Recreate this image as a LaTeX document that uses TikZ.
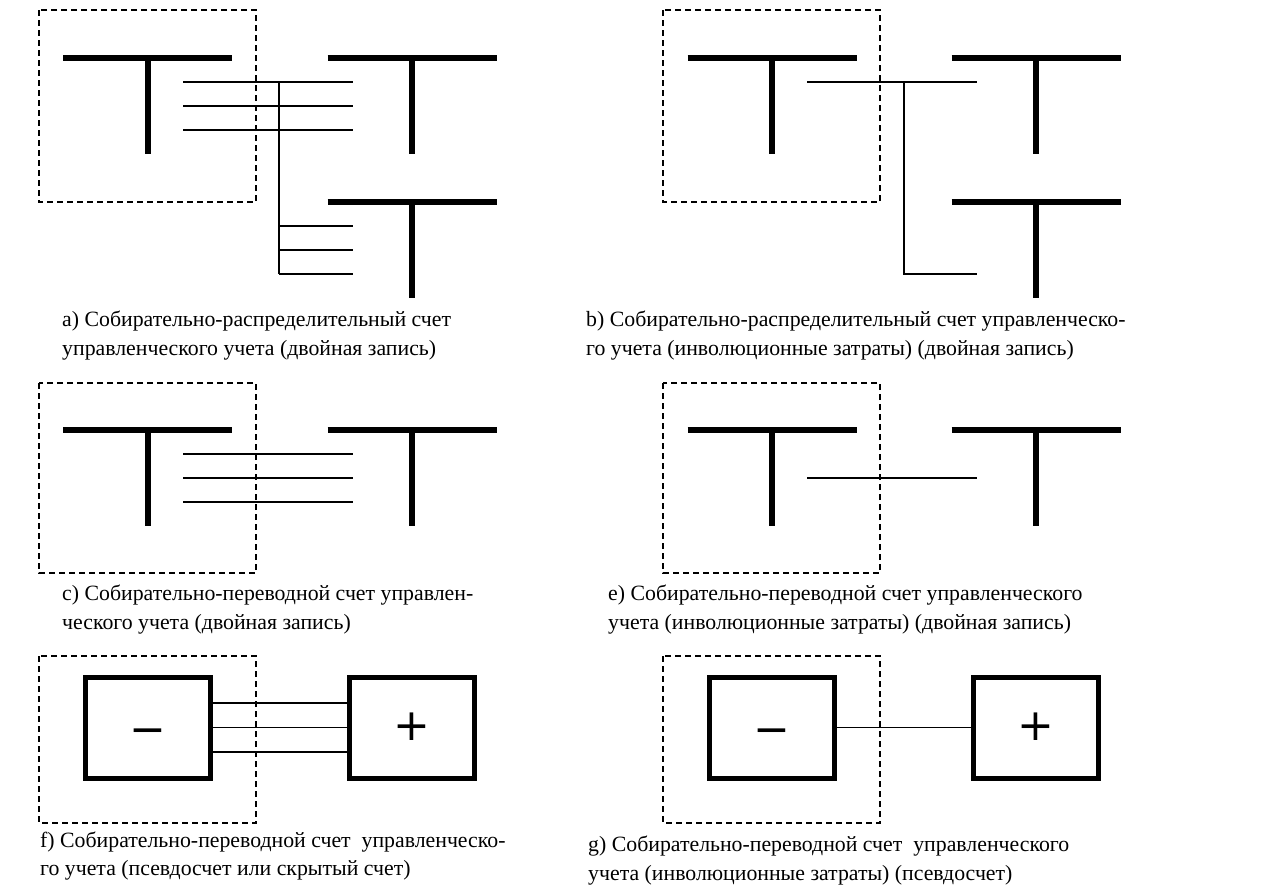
\documentclass[tikz,border=0pt]{standalone}
\usepackage{fontspec}
\setmainfont{Liberation Serif}
\newfontfamily\signfont{DejaVu Sans}
% T-account: thick bar with a stem; #1 name, #2 stem x, #3 bar y
\newcommand\taccount[3]{%
  \draw[tbar] (#2-84.5,#3) -- (#2+84.5,#3);
  \draw[tbar] (#2,#3) -- (#2,#3+96);
  \coordinate (#1) at (#2,#3);}
\begin{document}
\begin{tikzpicture}[x=1pt,y=-1pt,
  frame/.style={draw, line width=1.4pt, dash pattern=on 6pt off 4pt},
  tbar/.style={line width=6pt},
  flow/.style={line width=1.8pt},
  acct/.style={draw, line width=5pt, minimum width=125pt, minimum height=101pt, inner sep=0pt},
  sign/.style={font=\signfont\fontsize{44}{44}\selectfont, inner sep=0pt,
    text height=0pt, text depth=0pt, anchor=base},
  captext/.style={anchor=base west, inner sep=0pt, font=\fontsize{21.8}{26}\selectfont}]
\useasboundingbox (0,0) rectangle (1266,892);

% ---------- a) ----------
\draw[frame] (39,10) rectangle (256,202);
\taccount{aL}{147.5}{58}
\taccount{aR}{412}{58}
\taccount{aD}{412}{202}
\foreach \y in {82,106,130}
  \draw[flow] (183,\y) -- (353,\y);
\coordinate (aTop) at (279,82);
\coordinate (aBot) at (279,274);
\draw[flow] (aTop) -- (aBot);
\foreach \y in {226,250,274}
  \draw[flow] (279,\y) -- (353,\y);
\node[captext] (capa1) at (62,326) {a) Собирательно-распределительный счет};
\node[captext] (capa2) at (62,355) {управленческого учета (двойная запись)};

% ---------- b) ----------
\draw[frame] (663,10) rectangle (880,202);
\taccount{bL}{772}{58}
\taccount{bR}{1036}{58}
\taccount{bD}{1036}{202}
\coordinate (bS) at (807,82);
\coordinate (bE) at (977,82);
\coordinate (bK) at (904,82);
\coordinate (bB) at (904,274);
\coordinate (bT) at (977,274);
\draw[flow] (bS) -- (bE);
\draw[flow] (bK) -- (bB) -- (bT);
\node[captext] (capb1) at (586,326) {b) Собирательно-распределительный счет управленческо-};
\node[captext] (capb2) at (586,355) {го учета (инволюционные затраты) (двойная запись)};

% ---------- c) ----------
\draw[frame] (39,383) rectangle (256,573);
\taccount{cL}{147.5}{430}
\taccount{cR}{412}{430}
\foreach \y in {454,478,502}
  \draw[flow] (183,\y) -- (353,\y);
\node[captext] (capc1) at (62,600) {c) Собирательно-переводной счет управлен-};
\node[captext] (capc2) at (62,629) {ческого учета (двойная запись)};

% ---------- e) ----------
\draw[frame] (663,383) rectangle (880,573);
\taccount{eL}{772}{430}
\taccount{eR}{1036}{430}
\coordinate (eS) at (807,478);
\coordinate (eE) at (977,478);
\draw[flow] (eS) -- (eE);
\node[captext] (cape1) at (608,600) {e) Собирательно-переводной счет управленческого};
\node[captext] (cape2) at (608,629) {учета (инволюционные затраты) (двойная запись)};

% ---------- f) ----------
\draw[frame] (39,656) rectangle (256,823);
\node[acct] (fm) at (147.5,727.5) {};
\node[acct] (fp) at (411.5,727.5) {};
\node[sign] (fms) at (148,744.5) {−};
\node[sign] (fps) at (412,740.5) {+};
\foreach \s in {24.5,0,-24.5}
  \draw[flow] ([yshift=\s pt]fm.east) -- ([yshift=\s pt]fp.west);
\node[captext] (capf1) at (40,847) {f) Собирательно-переводной счет\ \ управленческо-};
\node[captext] (capf2) at (40,875) {го учета (псевдосчет или скрытый счет)};

% ---------- g) ----------
\draw[frame] (663,656) rectangle (880,823);
\node[acct] (gm) at (771.5,727.5) {};
\node[acct] (gp) at (1035.5,727.5) {};
\node[sign] (gms) at (772,744.5) {−};
\node[sign] (gps) at (1036,740.5) {+};
\draw[flow] (gm.east) -- (gp.west);
\node[captext] (capg1) at (588,851) {g) Собирательно-переводной счет\ \ управленческого};
\node[captext] (capg2) at (588,880) {учета (инволюционные затраты) (псевдосчет)};
\end{tikzpicture}
\end{document}
